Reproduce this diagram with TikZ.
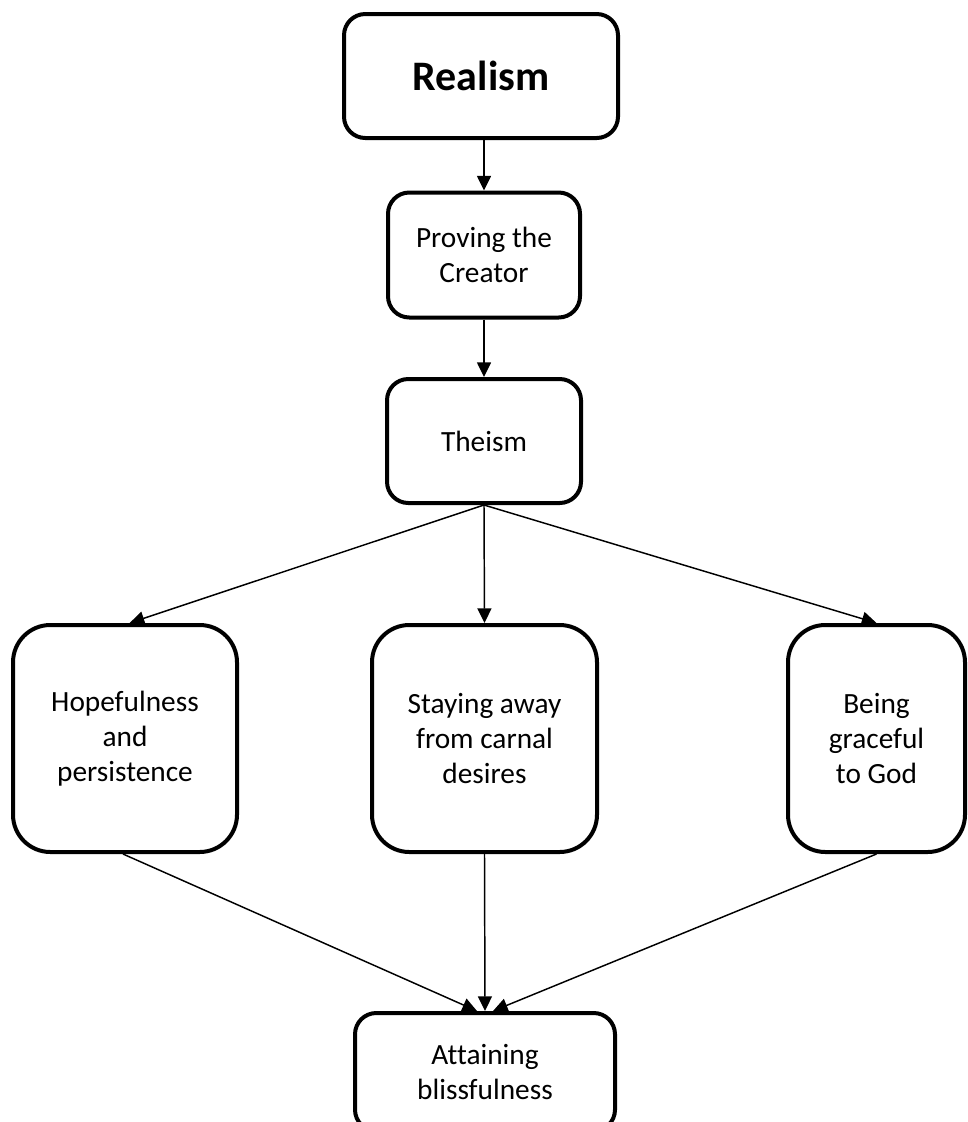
\documentclass[tikz,border=0pt]{standalone}
\usepackage{fontspec}
\setmainfont{Carlito}[Ligatures=NoCommon]
\usetikzlibrary{arrows.meta}
\begin{document}
\begin{tikzpicture}[x=0.75pt,y=-0.75pt,
  box/.style={draw=black, line width=3pt, rounded corners=#1, inner sep=0pt,
    align=center, fill=white, font=\fontsize{22}{26.3}\selectfont},
  box/.default=16pt,
  arr/.style={draw=black, line width=1.1pt, -{Triangle[length=11pt,width=10.5pt]}}]
\fill[white] (0,0) rectangle (968,1122);
\useasboundingbox (0,0) rectangle (968,1122);
\clip (0,0) rectangle (968,1122);

\node[box, minimum width=205.5pt, minimum height=93pt, font=\fontsize{31.5}{36}\selectfont\bfseries]
  (realism) at (481,76) {Realism};
\node[box, minimum width=144pt, minimum height=93.75pt] (prove) at (484,255) {Proving the\\Creator};
\node[box, minimum width=145.5pt, minimum height=93pt] (theism) at (484,441) {Theism};
\node[box=28pt, minimum width=168pt, minimum height=170.25pt] (hope) at (125,738.5) {Hopefulness\\and\\persistence};
\node[box=28pt, minimum width=168.75pt, minimum height=170.25pt] (stay) at (484.5,738.5) {Staying away\\from carnal\\desires};
\node[box=28pt, minimum width=132.75pt, minimum height=170.25pt] (being) at (876.5,738.5) {Being\\graceful\\to God};
\node[box, minimum width=195pt, minimum height=88.5pt] (attain) at (485,1072) {Attaining\\blissfulness};

\draw[arr] (prove.north |- realism.south) -- (prove.north);
\draw[arr] (prove.south) -- (theism.north);
\draw[arr] (theism.south) -- ([xshift=3.5pt]hope.north);
\draw[arr] (theism.south) -- (stay.north);
\draw[arr] (theism.south) -- (being.north);
\draw[arr] ([xshift=-1.5pt]hope.south) -- ([xshift=-6pt]attain.north);
\draw[arr] (stay.south) -- (attain.north);
\draw[arr] (being.south) -- ([xshift=6pt]attain.north);
\end{tikzpicture}
\end{document}
